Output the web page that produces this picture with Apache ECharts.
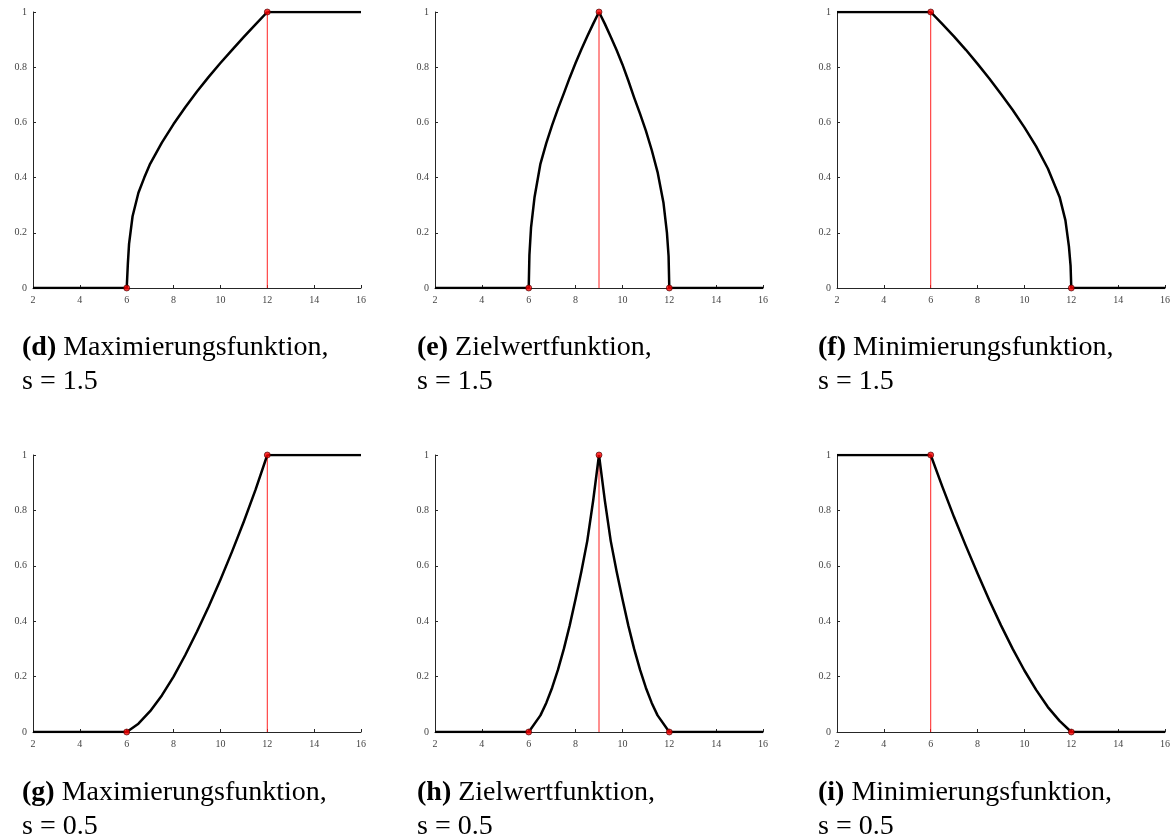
<!DOCTYPE html>
<html>
<head>
<meta charset="utf-8">
<script src="https://cdn.jsdelivr.net/npm/echarts@6/dist/echarts.min.js"></script>
<style>
  html, body { margin: 0; padding: 0; background: #fff; }
  #chart { width: 1174px; height: 839px; }
</style>
</head>
<body>
<div id="chart"></div>
<script>
/* ===========================
   Data
=========================== */

// (d) Maximierungsfunktion, s = 1.5
const maxS15X = [2, 6, 6.05, 6.1, 6.25, 6.5, 6.75, 7, 7.5, 8, 8.5, 9, 9.5, 10, 10.5, 11, 11.5, 12, 16];
const maxS15Y = [0, 0, 0.09, 0.16, 0.26, 0.345, 0.40, 0.45, 0.527, 0.594, 0.655, 0.712, 0.765, 0.815, 0.863, 0.91, 0.955, 1, 1];

// (e) Zielwertfunktion, s = 1.5
const tgtS15X = [2, 6, 6.03, 6.1, 6.25, 6.5, 6.75, 7, 7.25, 7.5, 7.75, 8, 8.25, 8.5, 8.75, 9,
                 9.25, 9.5, 9.75, 10, 10.25, 10.5, 10.75, 11, 11.25, 11.5, 11.75, 11.9, 11.97, 12, 16];
const tgtS15Y = [0, 0, 0.12, 0.22, 0.33, 0.45, 0.525, 0.59, 0.65, 0.705, 0.762, 0.815, 0.865, 0.912, 0.957, 1,
                 0.957, 0.91, 0.862, 0.81, 0.752, 0.69, 0.632, 0.57, 0.5, 0.42, 0.31, 0.2, 0.115, 0, 0];

// (f) Minimierungsfunktion, s = 1.5
const minS15X = [2, 6, 6.5, 7, 7.5, 8, 8.5, 9, 9.5, 10, 10.5, 11, 11.5, 11.75, 11.9, 11.97, 12, 16];
const minS15Y = [1, 1, 0.956, 0.911, 0.863, 0.812, 0.759, 0.703, 0.645, 0.582, 0.513, 0.433, 0.33, 0.245, 0.15, 0.08, 0, 0];

// (g) Maximierungsfunktion, s = 0.5
const maxS05X = [2, 6, 6.5, 7, 7.5, 8, 8.5, 9, 9.5, 10, 10.5, 11, 11.5, 12, 16];
const maxS05Y = [0, 0, 0.03, 0.075, 0.132, 0.2, 0.278, 0.363, 0.453, 0.55, 0.652, 0.76, 0.875, 1, 1];

// (h) Zielwertfunktion, s = 0.5
const tgtS05X = [2, 6, 6.5, 6.75, 7, 7.25, 7.5, 7.75, 8, 8.25, 8.5, 8.75, 9,
                 9.25, 9.5, 9.75, 10, 10.25, 10.5, 10.75, 11, 11.25, 11.5, 12, 16];
const tgtS05Y = [0, 0, 0.06, 0.105, 0.16, 0.225, 0.3, 0.385, 0.48, 0.58, 0.69, 0.835, 1,
                 0.835, 0.69, 0.58, 0.48, 0.385, 0.3, 0.225, 0.16, 0.105, 0.06, 0, 0];

// (i) Minimierungsfunktion, s = 0.5
const minS05X = [2, 6, 6.5, 7, 7.5, 8, 8.5, 9, 9.5, 10, 10.5, 11, 11.5, 12, 16];
const minS05Y = [1, 1, 0.885, 0.775, 0.672, 0.572, 0.476, 0.385, 0.3, 0.222, 0.152, 0.09, 0.04, 0, 0];

// knots (red points) and target value (red line)
const knotsMax = [6, 12];
const knotsTgt = [6, 9, 12];
const knotsMin = [6, 12];
const targetMax = 12;
const targetTgt = 9;
const targetMin = 6;

// captions
const captionLabels = ["(d)", "(e)", "(f)", "(g)", "(h)", "(i)"];
const captionNames = ["Maximierungsfunktion,", "Zielwertfunktion,", "Minimierungsfunktion,",
                      "Maximierungsfunktion,", "Zielwertfunktion,", "Minimierungsfunktion,"];
const captionParams = ["s = 1.5", "s = 1.5", "s = 1.5", "s = 0.5", "s = 0.5", "s = 0.5"];

const panels = [
    { x: maxS15X, y: maxS15Y, knots: knotsMax, target: targetMax },
    { x: tgtS15X, y: tgtS15Y, knots: knotsTgt, target: targetTgt },
    { x: minS15X, y: minS15Y, knots: knotsMin, target: targetMin },
    { x: maxS05X, y: maxS05Y, knots: knotsMax, target: targetMax },
    { x: tgtS05X, y: tgtS05Y, knots: knotsTgt, target: targetTgt },
    { x: minS05X, y: minS05Y, knots: knotsMin, target: targetMin }
];

/* ===========================
   Layout
=========================== */

const gridLeft = [33, 435, 837];
const gridTop = [12, 455];
const gridHeight = [276, 277];
const captionLeft = [22, 417, 818];
const captionTop = [331, 776];

const FONT = "'Liberation Serif', 'DejaVu Serif', serif";
const AXIS_COLOR = "#262626";

/* ===========================
   Build option
=========================== */

// split a curve into segments at the knots, so the corners stay sharp
function segments(xs, ys, knots) {
    const out = [];
    let cur = [];
    for (let i = 0; i < xs.length; i++) {
        cur.push([xs[i], ys[i]]);
        if (knots.indexOf(xs[i]) >= 0 && cur.length > 1) {
            out.push(cur);
            cur = [[xs[i], ys[i]]];
        }
    }
    if (cur.length > 1) out.push(cur);
    return out;
}

const grid = [];
const xAxis = [];
const yAxis = [];
const series = [];
const title = [];

panels.forEach((p, i) => {

    const col = i % 3;
    const row = Math.floor(i / 3);

    grid.push({
        left: gridLeft[col],
        top: gridTop[row],
        width: 328,
        height: gridHeight[row]
    });

    xAxis.push({
        gridIndex: i,
        type: "value",
        min: 2,
        max: 16,
        interval: 2,
        axisLine: { show: true, onZero: false, lineStyle: { color: AXIS_COLOR, width: 1 } },
        axisTick: { show: true, inside: true, length: 3, lineStyle: { color: AXIS_COLOR } },
        axisLabel: { color: "#444", fontFamily: FONT, fontSize: 10, margin: 7 },
        splitLine: { show: false }
    });

    yAxis.push({
        gridIndex: i,
        type: "value",
        min: 0,
        max: 1,
        interval: 0.2,
        axisLine: { show: true, onZero: false, lineStyle: { color: AXIS_COLOR, width: 1 } },
        axisTick: { show: true, inside: true, length: 3, lineStyle: { color: AXIS_COLOR } },
        axisLabel: {
            color: "#444",
            fontFamily: FONT,
            fontSize: 10,
            margin: 6,
            formatter: v => String(+v.toFixed(1))
        },
        splitLine: { show: false }
    });

    // red target line
    series.push({
        type: "line",
        xAxisIndex: i,
        yAxisIndex: i,
        data: [[p.target, 0], [p.target, 1]],
        symbol: "none",
        lineStyle: { color: "#ff2020", width: 1 },
        z: 1,
        silent: true
    });

    // black curve
    segments(p.x, p.y, p.knots).forEach(seg => {
        series.push({
            type: "line",
            xAxisIndex: i,
            yAxisIndex: i,
            data: seg,
            symbol: "none",
            smooth: false,
            lineStyle: { color: "#000", width: 2.5, join: "round" },
            z: 2,
            silent: true
        });
    });

    // red knots
    series.push({
        type: "scatter",
        xAxisIndex: i,
        yAxisIndex: i,
        data: p.knots.map(k => [k, p.y[p.x.indexOf(k)]]),
        symbol: "circle",
        symbolSize: 6,
        itemStyle: { color: "#ff0000", borderColor: "#400000", borderWidth: 0.8 },
        z: 3,
        silent: true
    });

    title.push({
        left: captionLeft[col],
        top: captionTop[row],
        padding: 0,
        text: "{b|" + captionLabels[i] + "} " + captionNames[i] + "\n" + captionParams[i],
        textStyle: {
            fontFamily: FONT,
            fontSize: 28,
            fontWeight: "normal",
            lineHeight: 34,
            color: "#000",
            rich: {
                b: { fontFamily: FONT, fontSize: 28, fontWeight: "bold", lineHeight: 34, color: "#000" }
            }
        }
    });

});

const chart = echarts.init(document.getElementById("chart"));

chart.setOption({
    animation: false,
    backgroundColor: "#fff",
    title: title,
    grid: grid,
    xAxis: xAxis,
    yAxis: yAxis,
    series: series
});
</script>
</body>
</html>
